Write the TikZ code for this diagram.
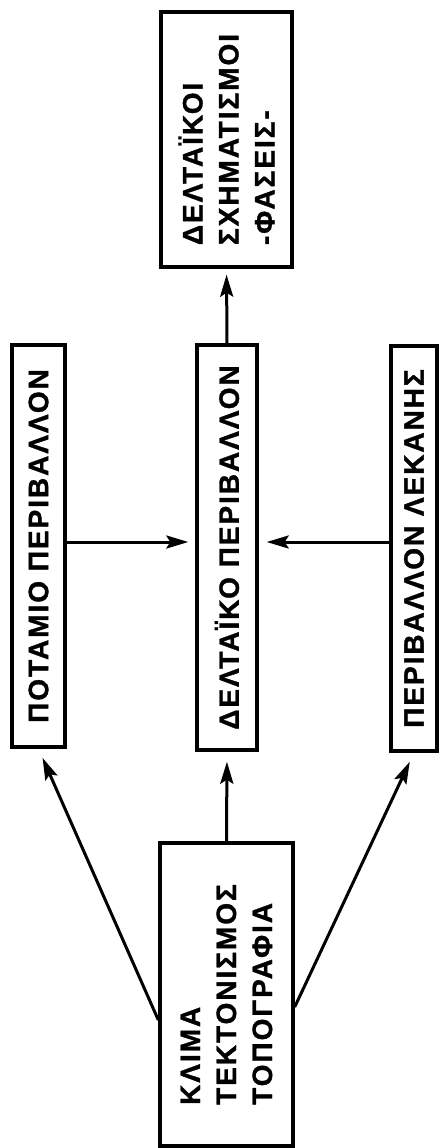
\documentclass[tikz,border=0pt]{standalone}
\usepackage{fontspec}
\setmainfont{Liberation Sans}[LetterSpace=7,BoldFeatures={FakeBold=1.2}]
\usetikzlibrary{arrows.meta}
\begin{document}
\begin{tikzpicture}[x=1pt,y=-1pt,
  box/.style={draw,line width=3.4pt,rotate=90,inner sep=0pt,align=left,
    font=\fontsize{28}{36}\selectfont\bfseries},
  arr/.style={line width=3pt,-{Stealth[length=22pt,width=13pt,inset=4pt]}}]
\useasboundingbox (0,0) rectangle (440,1148);
\node[box,minimum width=255pt,minimum height=131pt] (top) at (226.5,139.5)
  {ΔΕΛΤΑΪΚΟΙ\\ΣΧΗΜΑΤΙΣΜΟΙ\\-ΦΑΣΕΙΣ-};
\node[box,minimum width=402pt,minimum height=53pt] (left) at (38.5,546)
  {ΠΟΤΑΜΙΟ ΠΕΡΙΒΑΛΛΟΝ};
\node[box,minimum width=405pt,minimum height=60pt] (mid) at (227,547.5)
  {ΔΕΛΤΑΪΚΟ ΠΕΡΙΒΑΛΛΟΝ};
\node[box,minimum width=405pt,minimum height=46pt] (right) at (414,548.5)
  {ΠΕΡΙΒΑΛΛΟΝ ΛΕΚΑΝΗΣ};
\node[box,minimum width=303pt,minimum height=133pt] (bot) at (226.5,994.5)
  {ΚΛΙΜΑ\\ΤΕΚΤΟΝΙΣΜΟΣ\\ΤΟΠΟΓΡΑΦΙΑ};
\coordinate (h) at (0,542);
\coordinate (dl) at (0,1020);
\coordinate (dr) at (0,1007);
\draw[arr,shorten >=6pt] (mid.east) -- (top.west);
\draw[arr,shorten >=7pt] (left.south |- h) -- (mid.north |- h);
\draw[arr,shorten >=8pt] (right.north |- h) -- (mid.south |- h);
\draw[arr,shorten >=10pt] (bot.east) -- (mid.west);
\draw[arr,shorten >=10pt] (bot.north |- dl) -- (left.west);
\draw[arr,shorten >=10pt] (bot.south |- dr) -- (right.west);
\end{tikzpicture}
\end{document}
